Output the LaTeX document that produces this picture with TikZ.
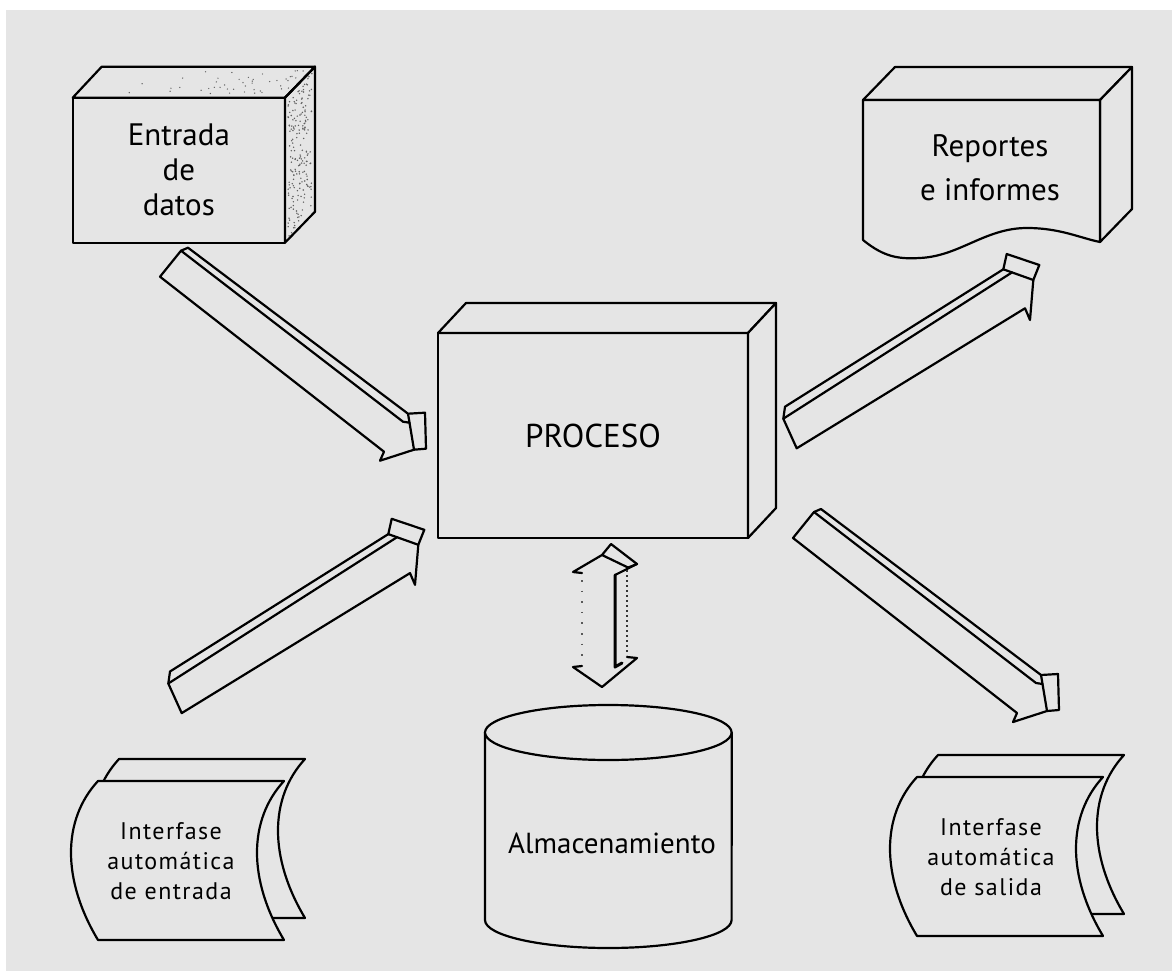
\documentclass[tikz,border=0pt]{standalone}
\usepackage{fontspec}
\setmainfont{PT Sans}
\newfontfamily\spacedfont[LetterSpace=6]{PT Sans}
\usetikzlibrary{calc}
\definecolor{paper}{RGB}{229,229,229}
\definecolor{speck}{RGB}{95,95,95}
\begin{document}
\begin{tikzpicture}[x=1pt,y=-1pt,
  ln/.style={line width=2.2pt, line join=round, line cap=round},
  face/.style={ln, fill=paper},
  boxnode/.style={face, draw, inner sep=0pt, outer sep=0pt, align=center},
  pics/slantdown/.style={code={
    \draw[face] (0,0) -- (21,-26) -- (28,-29) -- (248,137) -- (265,136) -- (266,172)
                -- (254,173) -- (220,184) -- (224,175) -- cycle;
    \draw[ln] (21,-26) -- (243,145) -- (249.5,146);
    \draw[ln] (248,137) -- (254,173);
  }},
  pics/slantup/.style={code={
    \draw[face] (0,0) -- (-1.7,12) -- (11.7,41.6) -- (240,-98.4) -- (245,-86.7)
                -- (248.3,-126.7) -- (254.3,-141.7) -- (221.7,-152.7) -- (218.3,-137.4) -- cycle;
    \draw[ln] (-1.7,12) -- (227,-134.3);
    \draw[ln] (218.3,-137.4) -- (248.3,-126.7);
  }},
  pics/sheet/.style={code={
    \draw[face] (21,-22) -- (207,-22) .. controls (171,17) and (171,77) .. (207,137)
                -- (21,137) .. controls (-15,77) and (-15,17) .. (21,-22) -- cycle;
    \draw[face] (0,0) -- (186,0) .. controls (150,39) and (150,99) .. (186,159)
                -- (0,159) .. controls (-36,99) and (-36,39) .. (0,0) -- cycle;
  }}
]
\useasboundingbox (0,0) rectangle (1172,971);
\fill[white] (0,0) rectangle (1172,971);
\fill[paper] (6,10) rectangle (1172,971);

% --- Entrada de datos: box with stippled top and side
\node[boxnode, minimum width=212.3pt, minimum height=145pt,
      font=\fontsize{31}{35}\selectfont] (entrada) at (178.85,170.2) {Entrada\\de\\datos};
\draw[face] (entrada.north west) -- ++(29,-31) -- ($(entrada.north east)+(30,-31)$)
            -- (entrada.north east) -- cycle;
\draw[face] (entrada.north east) -- ++(30,-31) -- ($(entrada.south east)+(30,-31)$)
            -- (entrada.south east) -- cycle;
\pgfmathsetseed{11}
\foreach \k in {1,...,190}{
  \pgfmathsetmacro{\ua}{rnd}\pgfmathsetmacro{\ub}{rnd}
  \fill[speck] ($(entrada.north east)+(3+24*\ub,6+135*\ua-31*\ub)$) circle (0.8pt);
}
\foreach \k in {1,...,45}{
  \pgfmathsetmacro{\ua}{sqrt(rnd)}\pgfmathsetmacro{\ub}{rnd}
  \fill[speck] ($(entrada.north west)+(20+190*\ua+29*\ub,-4-23*\ub)$) circle (0.7pt);
}
\draw[ln] (entrada.north east) -- ++(30,-31);

% --- PROCESO
\node[boxnode, minimum width=310pt, minimum height=205pt,
      font=\fontsize{33}{40}\selectfont] (proceso) at (593,435.5) {PROCESO};
\draw[face] (proceso.north west) -- ++(28,-30) -- ($(proceso.north east)+(28,-30)$)
            -- (proceso.north east) -- cycle;
\draw[face] (proceso.north east) -- ++(28,-30) -- ($(proceso.south east)+(28,-30)$)
            -- (proceso.south east) -- cycle;

% --- Reportes e informes: box with a wavy lower edge
\draw[face] (863,100) -- (895,67) -- (1132,67) -- (1100,100) -- cycle;
\draw[face] (1100,100) -- (1132,67) -- (1132,209) -- (1100,242) -- cycle;
\draw[face] (863,100) -- (1100,100) -- (1100,242)
      .. controls (1080,238) and (1060,228) .. (1027,228)
      .. controls (985,228) and (960,256) .. (920,258)
      .. controls (900,259) and (885,258) .. (863,240) -- cycle;
\node[font=\fontsize{31}{43.7}\selectfont, align=center] (reportes) at (990,168)
      {Reportes\\e informes};

% --- Almacenamiento: cylinder
\draw[face] (485,732.5) -- (485,920) arc[start angle=180, end angle=0, x radius=123.3, y radius=28]
            -- (731.7,732.5);
\draw[face] (608.3,732.5) ellipse[x radius=123.3, y radius=27.5];
\node[font=\fontsize{29}{34}\selectfont] (almacen) at (612,843) {Almacenamiento};

% --- automatic interfaces: two stacked sheets each
\pic at (98,781) {sheet};
\pic at (917,777) {sheet};
\node[font={\spacedfont\fontsize{24}{30}\selectfont}, align=center] (ientrada) at (171,861)
      {Interfase\\automática\\de entrada};
\node[font={\spacedfont\fontsize{24}{30}\selectfont}, align=center] (isalida) at (991,857)
      {Interfase\\automática\\de salida};

% --- block arrows
\coordinate (tailA) at (160,276.7);
\coordinate (tailB) at (785,406.7);
\coordinate (tailC) at (170,671.5);
\coordinate (tailD) at (793,538);
\pic at (tailA) {slantdown};
\pic at (tailD) {slantdown};
\pic at (tailB) {slantup};
\pic at (tailC) {slantup};

% --- two-way arrow between PROCESO and Almacenamiento
\draw[face] (602,555) -- (611,544) -- (637,564) -- (629,568) -- cycle;
\draw[ln] (629,568) -- (615,575);
\draw[ln, line width=3pt] (615,575) -- (615,667) -- (622,663);
\draw[ln] (637,564) -- (627,568);
\draw[ln] (602,555) -- (573,572) -- (582,573);
\draw[ln] (582,666) -- (573,667) -- (602,687) -- (637,658) -- (627,657);
\draw[line width=1.6pt, gray!70!black, dash pattern=on 1.6pt off 9pt] (582,580) -- (582,662);
\draw[line width=1.6pt, gray!40!black, dash pattern=on 2pt off 3pt] (627,570) -- (627,655);
\end{tikzpicture}
\end{document}
